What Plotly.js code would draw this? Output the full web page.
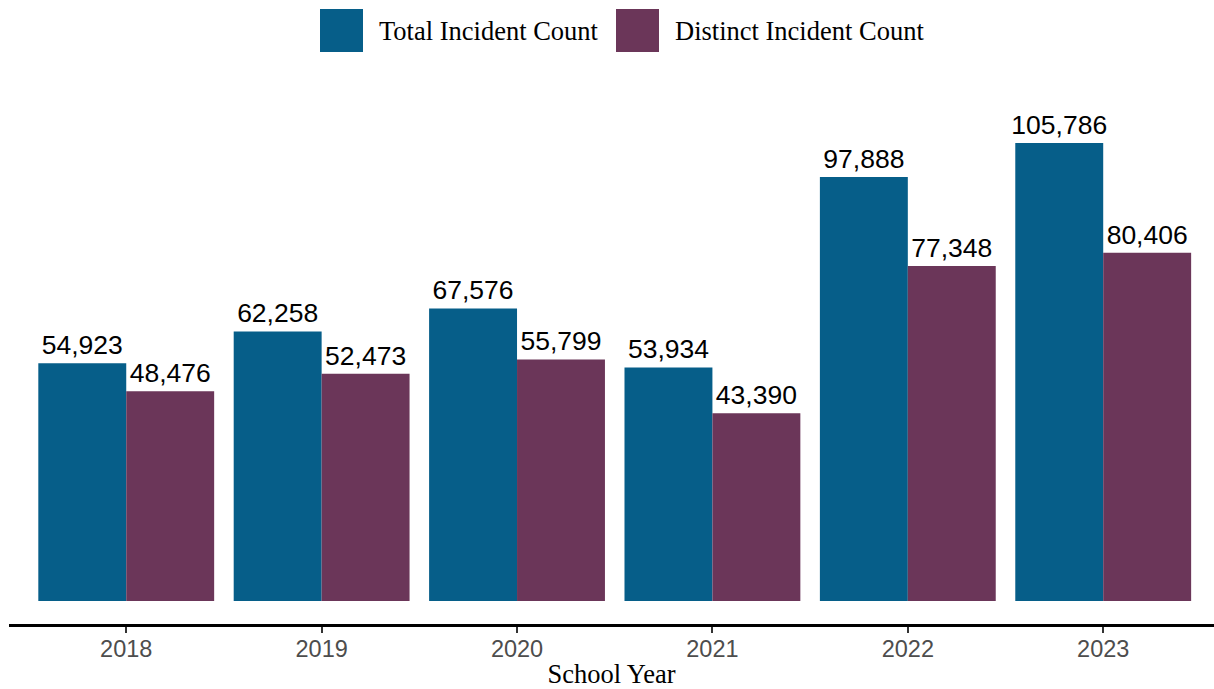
<!DOCTYPE html>
<html>
<head>
<meta charset="utf-8">
<script src="https://cdn.plot.ly/plotly-3.0.1.min.js"></script>
<style>
  html, body { margin: 0; padding: 0; background: #ffffff; }
  #chart { width: 1214px; height: 689px; }
</style>
</head>
<body>
<div id="chart"></div>
<script>
// ---- data ----
const schoolYears = ['2018', '2019', '2020', '2021', '2022', '2023'];
const totalIncidentCount = [54923, 62258, 67576, 53934, 97888, 105786];
const distinctIncidentCount = [48476, 52473, 55799, 43390, 77348, 80406];
const seriesNames = ['Total Incident Count', 'Distinct Incident Count'];

// ---- styles ----
const colors = ['#065E89', '#6B3659'];
const sans = 'Liberation Sans, Arial, sans-serif';
const serif = 'Liberation Serif, Times New Roman, serif';

const maxVal = Math.max(...totalIncidentCount, ...distinctIncidentCount);
const pad = maxVal * 0.05;

function barTrace(name, values, color) {
  return {
    type: 'bar',
    name: name,
    x: schoolYears,
    y: values,
    marker: { color: color, line: { width: 0 } },
    texttemplate: '%{y:,}',
    textposition: 'outside',
    textfont: { family: sans, size: 26.5, color: '#000000' },
    constraintext: 'none',
    cliponaxis: false,
    hoverinfo: 'x+y+name',
    showlegend: false
  };
}

const data = [
  barTrace(seriesNames[0], totalIncidentCount, colors[0]),
  barTrace(seriesNames[1], distinctIncidentCount, colors[1])
];

// legend drawn with shapes/annotations (large square keys like the reference)
const plotL = 9, plotW = 1205, plotTop = 120, plotH = 504;
const px2x = p => (p - plotL) / plotW;
const px2y = p => (plotTop + plotH - p) / plotH;

const legendKeys = [
  { x0: 320, x1: 363, tx: 377 },
  { x0: 616, x1: 659, tx: 673 }
];

const shapes = legendKeys.map((k, i) => ({
  type: 'rect', xref: 'paper', yref: 'paper',
  x0: px2x(k.x0), x1: px2x(k.x1), y0: px2y(52), y1: px2y(9),
  fillcolor: colors[i], line: { width: 0 }
}));

const annotations = legendKeys.map((k, i) => ({
  xref: 'paper', yref: 'paper',
  x: px2x(k.tx), y: px2y(31),
  xanchor: 'left', yanchor: 'middle',
  text: seriesNames[i], showarrow: false,
  font: { family: serif, size: 26.5, color: '#000000' }
}));

const layout = {
  width: 1214,
  height: 689,
  margin: { l: plotL, r: 0, t: plotTop, b: 689 - plotTop - plotH, pad: 0 },
  paper_bgcolor: '#ffffff',
  plot_bgcolor: '#ffffff',
  barmode: 'group',
  bargap: 0.1,
  bargroupgap: 0,
  showlegend: false,
  xaxis: {
    type: 'category',
    range: [-0.6, 5.567],
    showgrid: false,
    zeroline: false,
    showline: true,
    linecolor: '#000000',
    linewidth: 2.5,
    ticks: 'outside',
    ticklen: 6,
    tickwidth: 2,
    tickcolor: '#333333',
    ticklabelstandoff: -4,
    tickfont: { family: sans, size: 23.5, color: '#4D4D4D' },
    title: { text: 'School Year', font: { family: serif, size: 26.5, color: '#000000' }, standoff: 9 },
    fixedrange: true
  },
  yaxis: {
    visible: false,
    range: [-pad, maxVal + pad],
    showgrid: false,
    zeroline: false,
    fixedrange: true
  },
  shapes: shapes,
  annotations: annotations
};

Plotly.newPlot('chart', data, layout, { displayModeBar: false, staticPlot: true });
</script>
</body>
</html>
